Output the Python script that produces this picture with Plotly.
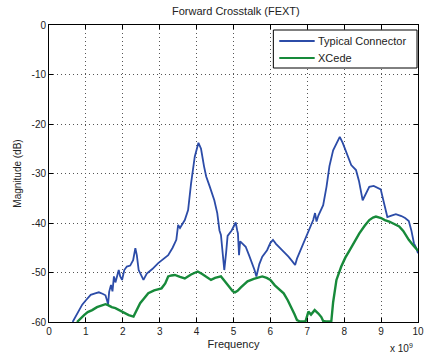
import plotly.graph_objects as go

# Frequency in GHz (axis is labelled with a x 10^9 multiplier), magnitude in dB
typical_freq = [0.64, 0.75, 0.9, 1.0, 1.13, 1.25, 1.35, 1.45, 1.53, 1.58, 1.6, 1.63, 1.68, 1.72,
                1.76, 1.8, 1.85, 1.89, 1.93, 1.98, 2.04, 2.11, 2.2, 2.28, 2.34, 2.38, 2.43, 2.5,
                2.56, 2.65, 2.8, 2.96, 3.1, 3.23, 3.35, 3.45, 3.5, 3.55, 3.68, 3.77, 3.85, 3.95,
                4.05, 4.12, 4.2, 4.26, 4.35, 4.48, 4.56, 4.62, 4.66, 4.7, 4.75, 4.8, 4.84, 4.95,
                5.06, 5.1, 5.12, 5.15, 5.18, 5.25, 5.33, 5.42, 5.51, 5.57, 5.62, 5.7, 5.78, 5.91,
                6.0, 6.07, 6.15, 6.27, 6.38, 6.49, 6.6, 6.67, 6.72, 6.76, 6.85, 6.98, 7.08, 7.16,
                7.21, 7.25, 7.3, 7.43, 7.52, 7.6, 7.7, 7.8, 7.88, 7.96, 8.06, 8.19, 8.32, 8.4,
                8.5, 8.58, 8.68, 8.8, 8.9, 8.99, 9.08, 9.17, 9.28, 9.4, 9.55, 9.65, 9.75, 9.82,
                9.89, 9.95, 10.0]
typical_db = [-60, -58.5, -56.5, -55.6, -54.5, -54.2, -54.0, -54.3, -54.6, -55.8, -56.5, -53.9,
              -52.5, -53.8, -50.8, -52, -50.5, -49.5, -50.8, -51.5, -49.5, -48.8, -48.6, -47.5,
              -45.1, -46.5, -49.5, -50.5, -51.5, -50.2, -49.3, -48.1, -47.3, -46.5, -45, -43.4,
              -40.4, -41, -39.4, -37.4, -32, -26.6, -23.8, -25, -28.5, -30.6, -32.5, -35.4, -38,
              -41.5, -42.4, -46, -49.5, -46, -42.6, -41.5, -39.9, -41.5, -42.1, -46.5, -43.7,
              -44.2, -44.8, -46.5, -48.1, -49.5, -50.8, -48.3, -46.8, -45.5, -44.0, -43.4, -44.2,
              -45.1, -46, -46.8, -47.8, -48.5, -47.2, -46.5, -45, -42.8, -41, -39.4, -38, -39.7,
              -38.5, -36.4, -32.7, -28.5, -25.3, -23.8, -22.6, -23.8, -25.9, -28.3, -29.3, -31.5,
              -35.4, -34.3, -32.7, -32.5, -32.8, -33.2, -36, -38.8, -38.5, -38.2, -38.6, -39,
              -39.6, -41.5, -44.1, -45, -46.1]

xcede_freq = [0.76, 0.85, 0.95, 1.05, 1.17, 1.3, 1.42, 1.53, 1.6, 1.7, 1.8, 1.9, 2.0, 2.1, 2.16,
              2.29, 2.38, 2.47, 2.58, 2.69, 2.85, 3.05, 3.15, 3.23, 3.32, 3.41, 3.55, 3.68, 3.85,
              4.03, 4.15, 4.28, 4.39, 4.5, 4.66, 4.77, 4.88, 4.98, 5.04, 5.11, 5.2, 5.38, 5.55,
              5.78, 5.9, 6.0, 6.12, 6.25, 6.36, 6.47, 6.58, 6.65, 6.72, 6.8, 6.95, 7.03, 7.1, 7.2,
              7.3, 7.38, 7.43, 7.5, 7.62, 7.65, 7.7, 7.79, 7.92, 8.03, 8.15, 8.28, 8.41, 8.55,
              8.68, 8.78, 8.86, 9.0, 9.1, 9.22, 9.35, 9.49, 9.6, 9.75, 9.88, 10.0]
xcede_db = [-60, -59.3, -58.6, -58, -57.6, -57.0, -56.7, -56.4, -56.6, -57.0, -57.2, -57.6, -58.0,
            -58.4, -58.6, -58.9, -57.6, -56.2, -55.2, -54.2, -53.6, -53.2, -52.2, -50.8, -50.6,
            -50.5, -50.9, -51.2, -50.4, -49.8, -50.3, -51, -51.5, -51.1, -50.8, -51.8, -52.9,
            -53.8, -54.0, -53.7, -53.0, -51.8, -51.3, -50.8, -51.1, -51.5, -52.6, -53.5, -54.2,
            -55.6, -57.2, -58.4, -59.6, -59.9, -59.9, -57.9, -58.5, -57.6, -58.3, -59, -59.8,
            -59.9, -59.9, -59.9, -56, -51.5, -48.8, -47, -45.5, -43.8, -42.1, -40.6, -39.4, -38.9,
            -38.7, -39.0, -39.4, -39.7, -40.2, -40.7, -41.6, -43.4, -44.6, -45.6]

x_ticks = [0, 1, 2, 3, 4, 5, 6, 7, 8, 9, 10]
y_ticks = [0, -10, -20, -30, -40, -50, -60]

series_names = ["Typical Connector", "XCede"]
series_colors = ["#2c4ca8", "#178a3a"]

FONT = "Liberation Sans, Arial, sans-serif"
TEXT = "#222"

# plot-area geometry in pixels, used to place the boxed legend
L, R, T, B = 49, 1, 25, 36
W, H = 425, 358
PW, PH = W - L - R, H - T - B


def px_x(px):
    return (px - L) / PW


def px_y(py):
    return (H - B - py) / PH


fig = go.Figure()
fig.add_trace(go.Scatter(x=typical_freq, y=typical_db, mode="lines", name=series_names[0],
                         line=dict(color=series_colors[0], width=1.8)))
fig.add_trace(go.Scatter(x=xcede_freq, y=xcede_db, mode="lines", name=series_names[1],
                         line=dict(color=series_colors[1], width=2.4)))

axis_common = dict(showline=True, linecolor="black", linewidth=1, mirror="ticks",
                   ticks="inside", ticklen=4, tickcolor="black",
                   showgrid=True, gridcolor="#555555", griddash="1px,3px", gridwidth=1,
                   zeroline=False, tickfont=dict(family=FONT, size=10, color=TEXT),
                   ticklabeloverflow="allow")

fig.update_layout(
    width=W, height=H,
    margin=dict(l=L, r=R, t=T, b=B),
    paper_bgcolor="white", plot_bgcolor="white",
    title=dict(text="Forward Crosstalk (FEXT)", x=0.555, xanchor="center", y=0.968,
               yanchor="middle", font=dict(family=FONT, size=11, color=TEXT)),
    xaxis=dict(range=[0, 10], tickvals=x_ticks, ticktext=[str(v) for v in x_ticks],
               title=dict(text="Frequency", font=dict(family=FONT, size=11, color=TEXT),
                          standoff=4),
               **axis_common),
    yaxis=dict(range=[-60, 0], tickvals=y_ticks, ticktext=[str(v) for v in y_ticks],
               title=dict(text="Magnitude (dB)", font=dict(family=FONT, size=10, color=TEXT),
                          standoff=8),
               **axis_common),
    showlegend=False,
)

# boxed legend in the upper-right corner of the axes
fig.add_shape(type="rect", xref="paper", yref="paper",
              x0=px_x(277), x1=px_x(423), y0=px_y(68), y1=px_y(30),
              line=dict(color="black", width=1), fillcolor="white", layer="above")
for i, (name, color) in enumerate(zip(series_names, series_colors)):
    row_y = px_y(41 + 17 * i)
    fig.add_shape(type="line", xref="paper", yref="paper",
                  x0=px_x(283), x1=px_x(319), y0=row_y, y1=row_y,
                  line=dict(color=color, width=2), layer="above")
    fig.add_annotation(text=name, xref="paper", yref="paper", x=px_x(320), y=row_y,
                       xanchor="left", yanchor="middle", showarrow=False,
                       font=dict(family=FONT, size=11, color=TEXT))

fig.add_annotation(text="x 10<sup>9</sup>", xref="paper", yref="paper", x=px_x(421),
                   y=px_y(356), xanchor="right", yanchor="bottom", showarrow=False,
                   font=dict(family=FONT, size=10, color=TEXT))

fig.write_html("out.html")
